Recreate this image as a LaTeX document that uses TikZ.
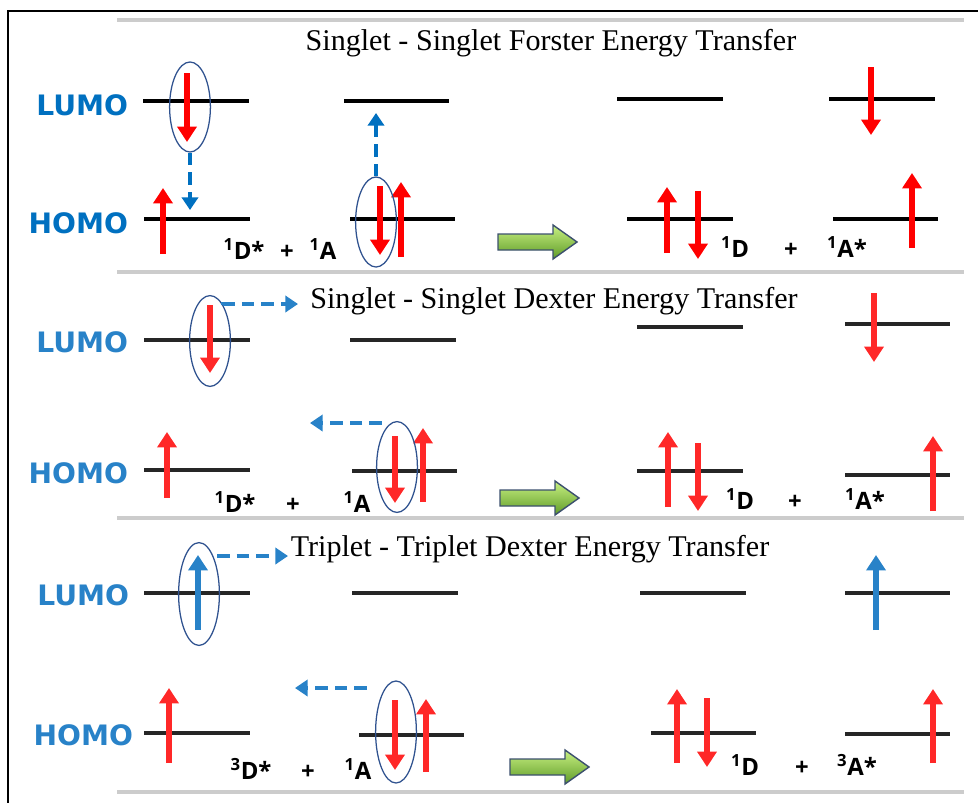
\documentclass[tikz,border=0pt]{standalone}
\usepackage{fontspec}
\setmainfont{Liberation Serif}
\newfontfamily\orbfont{DejaVu Sans}
\newfontfamily\specfont{Open Sans}
\usetikzlibrary{positioning,arrows.meta,shapes.geometric}
\definecolor{lumoA}{RGB}{0,112,192}
\definecolor{lumoB}{RGB}{40,130,200}
\definecolor{spinred}{RGB}{255,0,0}
\definecolor{spinredB}{RGB}{255,40,40}
\definecolor{ringblue}{RGB}{47,82,143}
\definecolor{greenhi}{RGB}{200,240,130}
\definecolor{greenlo}{RGB}{95,155,40}
\definecolor{greenrim}{RGB}{60,80,110}
\tikzset{
  lvl/.style={line width=3.4pt},
  spin/.style={-{Triangle[width=13.5pt,length=11pt]},line width=3.6pt},
  hop/.style={-{Triangle[width=11.5pt,length=9pt]},line width=3.3pt,dash pattern=on 9pt off 5pt},
  pair/.style={draw=ringblue,line width=0.9pt,ellipse,inner sep=0pt,minimum width=1.02cm},
  orb/.style={font=\orbfont\bfseries\fontsize{20}{24}\selectfont,anchor=base east},
  spec/.style={font=\specfont\bfseries\fontsize{17}{20}\selectfont,anchor=base},
  title/.style={font=\fontsize{21.4}{25}\selectfont,anchor=base},
  sepline/.style={gray!40,line width=3.5pt},
  bigarrow/.style={draw=greenrim,line width=1pt,top color=greenhi,bottom color=greenlo}
}

\begin{document}
\begin{tikzpicture}[x=0.025cm,y=-0.025cm]
\useasboundingbox (0,0) rectangle (978,803);
% ---- frame and separators ----
\draw[line width=1.5pt] (978,11) -- (8,11) -- (8,803);
\foreach \yy in {20,272,518,792} {\draw[sepline] (117,\yy) -- (964,\yy);}
% ---- green reaction arrows ----
\foreach \xs/\yc in {498/242, 500/498, 510/767} {
  \draw[bigarrow] (\xs,\yc-8) -- ++(55,0) -- ++(0,-9) -- ++(24,17) -- ++(-24,17) -- ++(0,-9) -- ++(-55,0) -- cycle;}

% ---- panel 1: singlet-singlet Forster ----
\node[title] (tforster) at (551,50) {Singlet - Singlet Forster Energy Transfer};
\node[orb,text=lumoA] (lumo1) at (133,115) {LUMO};
\node[orb,text=lumoA] (homo1) at (133,233) {HOMO};
\foreach \xa/\xb/\yy in {143/249/101, 344/449/101, 144/250/219, 350/455/219, 617/723/99, 829/935/99, 627/733/219, 833/938/219}
  {\draw[lvl] (\xa,\yy) -- (\xb,\yy);}
\foreach \xx/\ya/\yb in {187/73/142, 163/254/188, 380/186/255, 401/257/182, 667/253/187, 698/191/259, 871/67/135, 912/248/173}
  {\draw[spin,spinred] (\xx,\ya) -- (\xx,\yb);}
\node[pair,minimum height=2.25cm] (ring1) at (190,107) {};
\node[pair,minimum height=2.25cm] (ring2) at (376,222) {};
\coordinate (dhomo1) at (190,210);
\coordinate (alumo1) at (376,113);
\draw[hop,lumoA] (ring1.south) -- (dhomo1);
\draw[hop,lumoA] (ring2.north) -- (alumo1);
\node[spec] (don1) at (244,259) {\textsuperscript{1}D*};
\node[spec] (plus1) at (287,259) {+};
\node[spec] (acc1) at (323,259) {\textsuperscript{1}A};
\node[spec] (don1p) at (735,257) {\textsuperscript{1}D};
\node[spec] (plus1p) at (791,257) {+};
\node[spec] (acc1p) at (847,257) {\textsuperscript{1}A*};

% ---- panel 2: singlet-singlet Dexter ----
\node[title] (tdexter) at (554,308) {Singlet - Singlet Dexter Energy Transfer};
\node[orb,text=lumoB] (lumo2) at (133,352) {LUMO};
\node[orb,text=lumoB] (homo2) at (133,483) {HOMO};
\foreach \xa/\xb/\yy in {144/250/340, 350/456/340, 144/250/470, 352/457/471, 637/743/327, 845/950/324, 637/743/471, 845/950/475}
  {\draw[lvl,black!85,line width=3pt] (\xa,\yy) -- (\xb,\yy);}
\foreach \xx/\ya/\yb in {210/305/373, 167/498/432, 395/436/503, 423/502/428, 668/507/432, 698/443/511, 874/293/362, 933/511/436}
  {\draw[spin,spinredB] (\xx,\ya) -- (\xx,\yb);}
\node[pair,minimum height=2.27cm] (ring3) at (210,341) {};
\node[pair,minimum height=2.27cm] (ring4) at (397,467) {};
\coordinate (ehop2) at (298,304);
\coordinate (hstart2) at (382,423);
\coordinate (hhop2) at (310,423);
\draw[hop,lumoB] (ring3.70) -- (ehop2 -| ring3.70) -- (ehop2);
\draw[hop,lumoB] (hstart2) -- (hhop2);
\node[spec] (don2) at (235,512) {\textsuperscript{1}D*};
\node[spec] (plus2) at (293,512) {+};
\node[spec] (acc2) at (357,512) {\textsuperscript{1}A};
\node[spec] (don2p) at (740,509) {\textsuperscript{1}D};
\node[spec] (plus2p) at (795,509) {+};
\node[spec] (acc2p) at (865,509) {\textsuperscript{1}A*};

% ---- panel 3: triplet-triplet Dexter ----
\node[title] (ttriplet) at (530,556) {Triplet - Triplet Dexter Energy Transfer};
\node[orb,text=lumoB] (lumo3) at (134,605) {LUMO};
\node[orb,text=lumoB] (homo3) at (138,745) {HOMO};
\foreach \xa/\xb/\yy in {144/250/593, 352/458/593, 144/250/733, 359/464/735, 640/746/593, 845/950/593, 651/756/733, 845/950/734}
  {\draw[lvl,black!85,line width=3pt] (\xa,\yy) -- (\xb,\yy);}
\foreach \xx/\ya/\yb in {169/763/688, 395/700/770, 426/772/699, 677/763/689, 707/698/767, 933/763/689}
  {\draw[spin,spinredB] (\xx,\ya) -- (\xx,\yb);}
\foreach \xx in {198,876}
  {\draw[spin,lumoB] (\xx,630) -- (\xx,555);}
\node[pair,minimum height=2.57cm] (ring5) at (199,594) {};
\node[pair,minimum height=2.55cm] (ring6) at (396,732) {};
\coordinate (hstart3a) at (217,556);
\coordinate (ehop3) at (288,556);
\coordinate (hstart3b) at (367,688);
\coordinate (hhop3) at (295,688);
\draw[hop,lumoB] (hstart3a) -- (ehop3);
\draw[hop,lumoB] (hstart3b) -- (hhop3);
\node[spec] (don3) at (251,779) {\textsuperscript{3}D*};
\node[spec] (plus3) at (308,779) {+};
\node[spec] (acc3) at (358,779) {\textsuperscript{1}A};
\node[spec] (don3p) at (745,775) {\textsuperscript{1}D};
\node[spec] (plus3p) at (802,775) {+};
\node[spec] (acc3p) at (857,775) {\textsuperscript{3}A*};
\end{tikzpicture}
\end{document}
